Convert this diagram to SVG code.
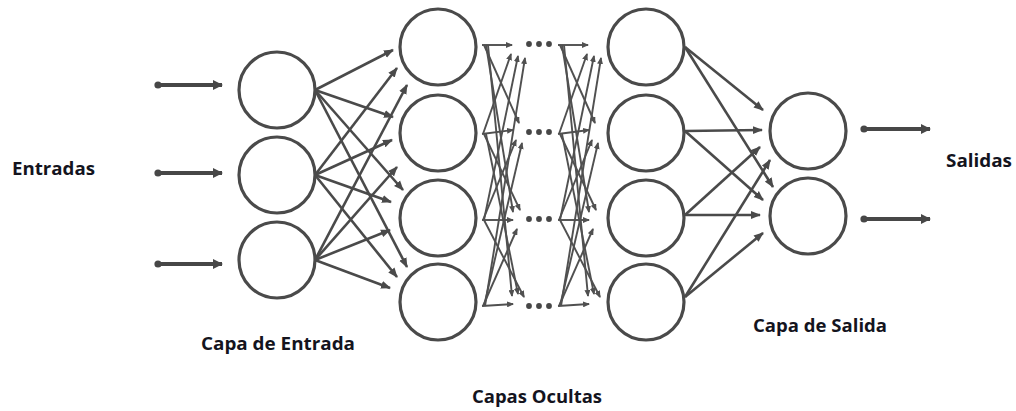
<svg xmlns="http://www.w3.org/2000/svg" width="1016" height="411" viewBox="0 0 1016 411">
  <style>
    .node { fill: #ffffff; stroke: #4a4a4a; stroke-width: 3.2; }
    .io { stroke: #474747; stroke-width: 3.8; fill: none; }
    .edge { stroke: #4a4a4a; stroke-width: 2.6; fill: none; }
    .mesh { stroke: #505050; stroke-width: 1.9; fill: none; }
    .dot { fill: #474747; }
    .label { font-family: "Open Sans", "Liberation Sans", sans-serif; font-weight: bold; font-size: 17px; fill: #14141e; }
  </style>
  <defs>
    <marker id="head-io" markerUnits="userSpaceOnUse" markerWidth="10" markerHeight="12" refX="9" refY="6" orient="auto">
      <path d="M0,1 L10,6 L0,11 z" fill="#474747"/>
    </marker>
    <marker id="head" markerUnits="userSpaceOnUse" markerWidth="10" markerHeight="9" refX="9" refY="4.5" orient="auto">
      <path d="M0,0.5 L10,4.5 L0,8.5 z" fill="#4a4a4a"/>
    </marker>
    <marker id="head-s" markerUnits="userSpaceOnUse" markerWidth="7" markerHeight="6" refX="6" refY="3" orient="auto">
      <path d="M0,0 L7,3 L0,6 z" fill="#505050"/>
    </marker>
  </defs>

  <!-- connectors -->
  <g id="connectors">
    <!-- inputs -->
    <g id="inputs">
      <circle class="dot" cx="158" cy="85" r="3.6"/>
      <line class="io" x1="158" y1="85" x2="222" y2="85" marker-end="url(#head-io)"/>
      <circle class="dot" cx="158" cy="173" r="3.6"/>
      <line class="io" x1="158" y1="173" x2="222" y2="173" marker-end="url(#head-io)"/>
      <circle class="dot" cx="158" cy="264" r="3.6"/>
      <line class="io" x1="158" y1="264" x2="222" y2="264" marker-end="url(#head-io)"/>
    </g>

    <!-- input layer to first hidden layer -->
    <g id="in-h1" marker-end="url(#head)">
      <line class="edge" x1="315" y1="90" x2="393" y2="50"/>
      <line class="edge" x1="315" y1="90" x2="393" y2="117"/>
      <line class="edge" x1="315" y1="90" x2="403" y2="190"/>
      <line class="edge" x1="315" y1="90" x2="407" y2="267"/>
      <line class="edge" x1="315" y1="175" x2="397" y2="68"/>
      <line class="edge" x1="315" y1="175" x2="392" y2="140"/>
      <line class="edge" x1="315" y1="175" x2="391" y2="202"/>
      <line class="edge" x1="315" y1="175" x2="397" y2="277"/>
      <line class="edge" x1="315" y1="260" x2="407" y2="85"/>
      <line class="edge" x1="315" y1="260" x2="397" y2="167"/>
      <line class="edge" x1="315" y1="260" x2="390" y2="230"/>
      <line class="edge" x1="315" y1="260" x2="390" y2="288"/>
    </g>

    <!-- dense links between hidden layers, first block -->
    <g id="mesh-a" marker-end="url(#head-s)">
      <line class="mesh" x1="482" y1="45" x2="512" y2="45"/>
      <line class="mesh" x1="483" y1="134" x2="511" y2="54"/>
      <line class="mesh" x1="484" y1="220" x2="518" y2="56"/>
      <line class="mesh" x1="485" y1="306" x2="525" y2="58"/>
      <line class="mesh" x1="482" y1="134" x2="513" y2="130"/>
      <line class="mesh" x1="484" y1="45" x2="519" y2="123"/>
      <line class="mesh" x1="483" y1="220" x2="516" y2="140"/>
      <line class="mesh" x1="484" y1="306" x2="522" y2="143"/>
      <line class="mesh" x1="482" y1="220" x2="513" y2="220"/>
      <line class="mesh" x1="486" y1="45" x2="513" y2="212"/>
      <line class="mesh" x1="484" y1="134" x2="520" y2="210"/>
      <line class="mesh" x1="483" y1="306" x2="517" y2="229"/>
      <line class="mesh" x1="482" y1="306" x2="513" y2="304"/>
      <line class="mesh" x1="488" y1="45" x2="512" y2="296"/>
      <line class="mesh" x1="486" y1="134" x2="518" y2="294"/>
      <line class="mesh" x1="484" y1="220" x2="524" y2="297"/>
    </g>

    <!-- dense links between hidden layers, second block -->
    <g id="mesh-b" marker-end="url(#head-s)">
      <line class="mesh" x1="558" y1="45" x2="588" y2="45"/>
      <line class="mesh" x1="559" y1="134" x2="587" y2="54"/>
      <line class="mesh" x1="560" y1="220" x2="594" y2="56"/>
      <line class="mesh" x1="561" y1="306" x2="601" y2="58"/>
      <line class="mesh" x1="558" y1="134" x2="589" y2="130"/>
      <line class="mesh" x1="560" y1="45" x2="595" y2="123"/>
      <line class="mesh" x1="559" y1="220" x2="592" y2="140"/>
      <line class="mesh" x1="560" y1="306" x2="598" y2="143"/>
      <line class="mesh" x1="558" y1="220" x2="589" y2="220"/>
      <line class="mesh" x1="562" y1="45" x2="589" y2="212"/>
      <line class="mesh" x1="560" y1="134" x2="596" y2="210"/>
      <line class="mesh" x1="559" y1="306" x2="593" y2="229"/>
      <line class="mesh" x1="558" y1="306" x2="589" y2="304"/>
      <line class="mesh" x1="564" y1="45" x2="588" y2="296"/>
      <line class="mesh" x1="562" y1="134" x2="594" y2="294"/>
      <line class="mesh" x1="560" y1="220" x2="600" y2="297"/>
    </g>

    <!-- ellipsis dots -->
    <g id="ellipsis">
      <circle class="dot" cx="529" cy="44" r="2.9"/>
      <circle class="dot" cx="539" cy="44" r="2.9"/>
      <circle class="dot" cx="549" cy="44" r="2.9"/>
      <circle class="dot" cx="529" cy="132" r="2.9"/>
      <circle class="dot" cx="539" cy="132" r="2.9"/>
      <circle class="dot" cx="549" cy="132" r="2.9"/>
      <circle class="dot" cx="529" cy="219" r="2.9"/>
      <circle class="dot" cx="539" cy="219" r="2.9"/>
      <circle class="dot" cx="549" cy="219" r="2.9"/>
      <circle class="dot" cx="529" cy="306" r="2.9"/>
      <circle class="dot" cx="539" cy="306" r="2.9"/>
      <circle class="dot" cx="549" cy="306" r="2.9"/>
    </g>

    <!-- last hidden layer to output layer -->
    <g id="h2-out" marker-end="url(#head)">
      <line class="edge" x1="685" y1="47" x2="763" y2="110"/>
      <line class="edge" x1="685" y1="47" x2="773" y2="187"/>
      <line class="edge" x1="685" y1="131" x2="762" y2="130"/>
      <line class="edge" x1="685" y1="131" x2="763" y2="200"/>
      <line class="edge" x1="685" y1="215" x2="760" y2="147"/>
      <line class="edge" x1="685" y1="215" x2="760" y2="215"/>
      <line class="edge" x1="685" y1="297" x2="770" y2="160"/>
      <line class="edge" x1="685" y1="297" x2="763" y2="233"/>
    </g>

    <!-- outputs -->
    <g id="outputs">
      <circle class="dot" cx="864" cy="129" r="3.6"/>
      <line class="io" x1="864" y1="129" x2="930" y2="129" marker-end="url(#head-io)"/>
      <circle class="dot" cx="864" cy="219" r="3.6"/>
      <line class="io" x1="864" y1="219" x2="930" y2="219" marker-end="url(#head-io)"/>
    </g>
  </g>

  <!-- input layer -->
  <g id="input-layer">
    <circle id="in1" class="node" cx="277" cy="90" r="38"/>
    <circle id="in2" class="node" cx="277" cy="175" r="38"/>
    <circle id="in3" class="node" cx="277" cy="260" r="38"/>
  </g>

  <!-- first hidden layer -->
  <g id="hidden-1">
    <circle id="h1a" class="node" cx="438" cy="47" r="38"/>
    <circle id="h1b" class="node" cx="438" cy="133" r="38"/>
    <circle id="h1c" class="node" cx="438" cy="218" r="38"/>
    <circle id="h1d" class="node" cx="438" cy="302" r="38"/>
  </g>

  <!-- last hidden layer -->
  <g id="hidden-2">
    <circle id="h2a" class="node" cx="646" cy="47" r="38"/>
    <circle id="h2b" class="node" cx="646" cy="133" r="38"/>
    <circle id="h2c" class="node" cx="646" cy="218" r="38"/>
    <circle id="h2d" class="node" cx="646" cy="302" r="38"/>
  </g>

  <!-- output layer -->
  <g id="output-layer">
    <circle id="out1" class="node" cx="808" cy="131" r="38"/>
    <circle id="out2" class="node" cx="808" cy="216" r="38"/>
  </g>

  <!-- labels -->
  <g id="labels">
    <text class="label" x="12" y="175" textLength="83" lengthAdjust="spacingAndGlyphs">Entradas</text>
    <text class="label" x="946" y="167" textLength="66" lengthAdjust="spacingAndGlyphs">Salidas</text>
    <text class="label" x="201" y="350" textLength="154" lengthAdjust="spacingAndGlyphs">Capa de Entrada</text>
    <text class="label" x="753" y="332" textLength="134" lengthAdjust="spacingAndGlyphs">Capa de Salida</text>
    <text class="label" x="472" y="403" textLength="130" lengthAdjust="spacingAndGlyphs">Capas Ocultas</text>
  </g>
</svg>
